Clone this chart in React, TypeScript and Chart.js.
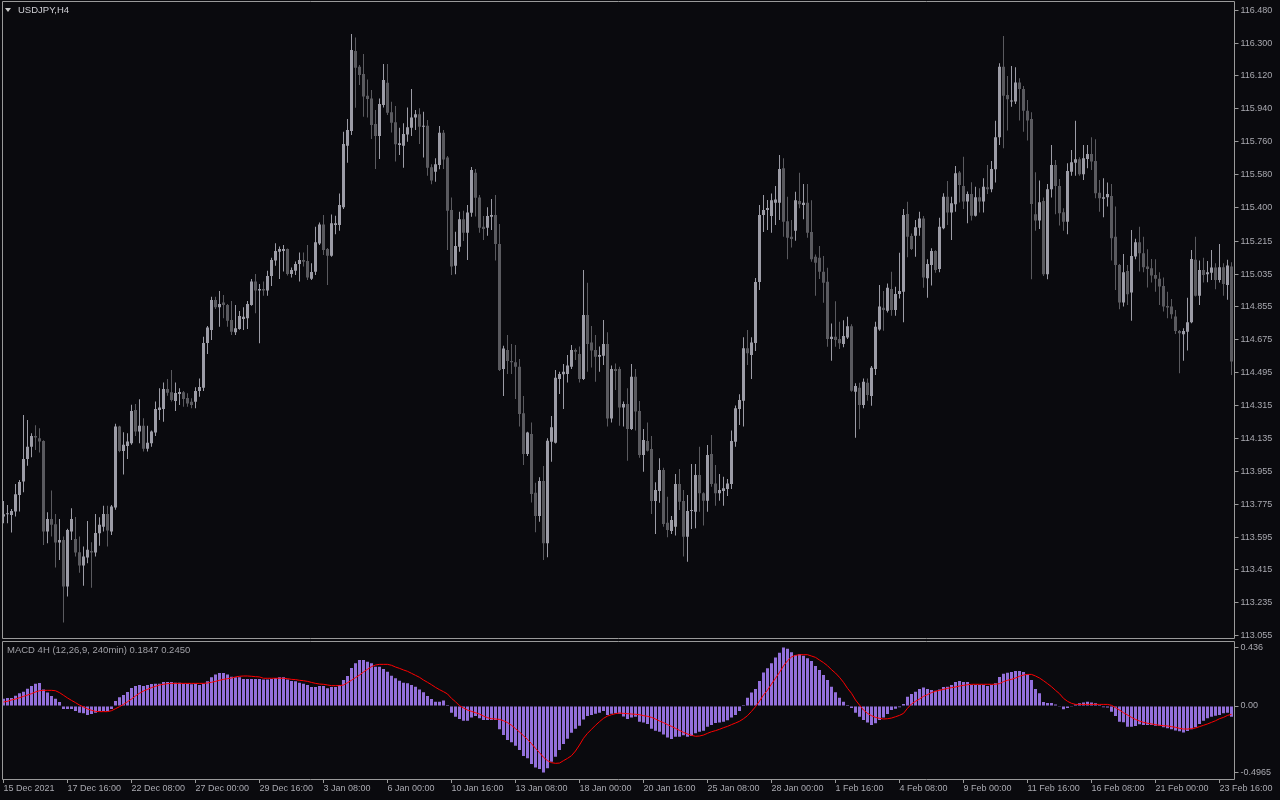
import React, { useEffect, useRef } from 'react';
import { Chart, registerables } from 'chart.js';

Chart.register(...registerables);

const opens = [
  113.707,113.720,113.716,113.735,113.826,113.899,114.023,114.089,114.149,114.136,
  114.121,113.625,113.694,113.665,113.565,113.579,113.324,113.625,113.585,113.512,
  113.439,113.483,113.519,113.510,113.616,113.651,113.722,113.625,113.757,114.200,
  114.067,114.094,114.109,114.291,114.173,114.204,114.078,114.109,114.167,114.291,
  114.296,114.406,114.388,114.340,114.378,114.388,114.357,114.336,114.336,114.395,
  114.413,114.658,114.729,114.893,114.853,114.879,114.866,114.784,114.716,114.734,
  114.789,114.793,114.866,114.994,114.945,114.954,114.945,115.025,115.109,115.158,
  115.162,115.173,115.036,115.054,115.091,115.112,115.107,115.010,115.048,115.203,
  115.307,115.173,115.136,115.304,115.304,115.401,115.738,115.819,116.257,116.171,
  116.131,116.012,115.997,115.857,115.791,115.961,116.083,115.921,115.866,115.742,
  115.738,115.800,115.837,115.892,115.910,115.842,115.847,115.620,115.596,115.632,
  115.809,115.673,115.386,115.081,115.185,115.335,115.262,115.371,115.590,115.455,
  115.295,115.289,115.349,115.359,115.200,114.515,114.619,114.559,114.552,114.528,
  114.273,114.050,114.159,113.838,113.710,113.902,113.561,114.117,114.112,114.461,
  114.486,114.488,114.528,114.619,114.597,114.461,114.811,114.660,114.619,114.583,
  114.588,114.652,114.245,114.515,114.515,114.304,114.324,114.187,114.473,114.285,
  114.045,114.121,114.077,113.793,113.847,113.962,113.674,113.628,113.652,113.886,
  113.793,113.597,113.738,113.734,113.935,113.835,113.794,114.050,113.889,113.835,
  113.847,113.858,113.886,114.117,114.296,114.342,114.629,114.592,114.658,114.992,
  115.359,115.386,115.353,115.426,115.426,115.614,115.325,115.240,115.273,115.435,
  115.413,115.426,115.265,115.130,115.125,115.048,114.993,114.679,114.692,114.679,
  114.652,114.688,114.750,114.391,114.413,114.318,114.440,114.367,114.515,114.732,
  114.851,114.834,114.953,114.838,114.926,114.938,115.364,115.243,115.245,115.289,
  115.340,115.012,115.085,115.162,115.063,115.286,115.459,115.372,115.417,115.591,
  115.518,115.432,115.474,115.355,115.456,115.432,115.510,115.500,115.609,115.784,
  116.171,116.016,115.980,115.980,116.084,116.049,115.930,115.885,115.363,115.328,
  115.436,115.034,115.500,115.633,115.518,115.374,115.322,115.596,115.645,115.664,
  115.582,115.666,115.693,115.655,115.481,115.447,115.456,115.463,115.240,115.085,
  114.879,115.052,114.934,115.131,115.209,115.149,115.076,115.067,115.030,115.009,
  114.970,114.861,114.857,114.803,114.724,114.706,114.720,114.771,115.113,114.917,
  115.058,115.034,115.043,115.071,115.003,115.072,114.976,115.076,
];

const highs = [
  113.793,113.771,113.749,113.886,113.908,114.264,114.236,114.163,114.207,114.191,
  114.125,113.731,113.850,113.722,113.694,113.598,113.640,113.753,113.705,113.598,
  113.543,113.683,113.567,113.722,113.704,113.766,113.766,113.771,114.215,114.204,
  114.169,114.163,114.319,114.324,114.350,114.246,114.204,114.178,114.337,114.410,
  114.442,114.461,114.510,114.442,114.410,114.395,114.382,114.355,114.415,114.464,
  114.692,114.751,114.911,114.911,114.942,114.921,114.871,114.888,114.866,114.833,
  114.853,114.888,115.008,115.036,114.981,114.994,115.054,115.125,115.204,115.186,
  115.195,115.175,115.071,115.104,115.154,115.153,115.195,115.094,115.295,115.317,
  115.359,115.178,115.362,115.355,115.477,115.815,115.884,116.350,116.331,116.180,
  116.240,116.101,116.043,115.934,115.997,116.185,116.185,115.979,115.955,115.837,
  115.861,115.948,116.049,115.934,115.943,115.924,115.879,115.636,115.669,115.846,
  115.824,115.682,115.455,115.267,115.377,115.382,115.413,115.622,115.610,115.468,
  115.353,115.401,115.446,115.468,115.309,114.643,114.701,114.652,114.647,114.570,
  114.367,114.172,114.223,113.893,113.922,113.984,114.136,114.258,114.510,114.501,
  114.543,114.592,114.647,114.628,114.638,115.058,114.988,114.751,114.701,114.638,
  114.784,114.716,114.534,114.546,114.528,114.337,114.410,114.543,114.515,114.340,
  114.187,114.223,114.149,113.895,114.026,113.975,113.816,113.711,113.940,113.968,
  113.853,113.825,113.995,113.995,114.090,113.840,114.099,114.154,113.990,113.940,
  113.926,113.913,114.178,114.315,114.377,114.689,114.729,114.689,115.014,115.413,
  115.468,115.441,115.477,115.517,115.687,115.669,115.459,115.331,115.486,115.590,
  115.528,115.528,115.440,115.143,115.189,115.134,115.070,114.765,114.887,114.774,
  114.783,114.802,114.761,114.437,114.440,114.464,114.464,114.532,114.774,114.975,
  114.942,114.984,115.048,114.966,115.152,115.391,115.431,115.258,115.331,115.377,
  115.353,115.117,115.176,115.166,115.344,115.478,115.545,115.459,115.627,115.600,
  115.678,115.487,115.538,115.514,115.505,115.560,115.633,115.655,115.875,116.189,
  116.339,116.120,116.175,116.168,116.107,116.065,115.989,115.921,115.593,115.547,
  115.454,115.529,115.742,115.660,115.556,115.395,115.642,115.715,115.875,115.675,
  115.742,115.742,115.784,115.773,115.551,115.560,115.536,115.529,115.405,115.091,
  115.145,115.085,115.277,115.228,115.295,115.240,115.171,115.118,115.116,115.045,
  115.016,114.939,114.899,114.839,114.729,114.738,114.906,115.167,115.240,115.109,
  115.125,115.107,115.167,115.094,115.200,115.094,115.113,115.100,
];

const lows = [
  113.671,113.671,113.620,113.707,113.735,113.840,113.986,114.032,114.072,114.058,
  113.552,113.561,113.598,113.428,113.470,113.127,113.269,113.579,113.488,113.400,
  113.329,113.452,113.318,113.488,113.548,113.625,113.543,113.607,113.744,114.060,
  113.937,114.023,114.100,114.149,114.109,114.063,114.063,114.090,114.149,114.236,
  114.227,114.369,114.337,114.285,114.318,114.309,114.309,114.300,114.300,114.364,
  114.395,114.598,114.674,114.844,114.747,114.793,114.747,114.702,114.702,114.730,
  114.729,114.734,114.862,114.820,114.656,114.917,114.917,114.970,115.081,115.008,
  115.049,115.027,115.016,115.030,114.994,115.076,115.003,115.003,115.030,115.194,
  115.140,114.975,115.130,115.253,115.273,115.391,115.645,115.797,115.946,116.071,
  115.897,115.892,115.775,115.610,115.665,115.948,115.906,115.811,115.651,115.687,
  115.618,115.760,115.791,115.824,115.747,115.673,115.574,115.527,115.541,115.609,
  115.611,115.167,115.030,115.034,115.158,115.216,115.112,115.349,115.350,115.262,
  115.222,115.245,115.276,115.109,114.505,114.367,114.488,114.488,114.351,114.200,
  113.990,114.039,113.785,113.621,113.679,113.469,113.484,114.008,114.108,114.378,
  114.296,114.441,114.515,114.565,114.441,114.455,114.501,114.523,114.446,114.501,
  114.537,114.200,114.222,114.400,114.205,114.200,114.013,114.181,114.178,114.030,
  113.953,114.063,113.721,113.612,113.783,113.652,113.594,113.612,113.603,113.743,
  113.488,113.460,113.639,113.643,113.734,113.658,113.734,113.871,113.767,113.794,
  113.767,113.820,113.858,114.090,114.209,114.200,114.537,114.461,114.614,114.948,
  115.266,115.277,115.262,115.304,115.331,115.240,115.116,115.181,115.218,115.395,
  115.336,115.234,115.103,114.917,115.008,114.878,114.637,114.561,114.637,114.625,
  114.634,114.679,114.391,114.139,114.186,114.300,114.342,114.314,114.482,114.725,
  114.725,114.825,114.807,114.807,114.902,114.771,115.127,115.167,115.130,115.245,
  114.960,114.906,114.972,115.043,115.045,115.280,115.304,115.222,115.377,115.427,
  115.392,115.313,115.328,115.350,115.372,115.372,115.474,115.483,115.536,115.742,
  115.724,115.821,115.952,115.967,115.876,115.815,115.766,115.007,115.273,115.282,
  115.025,115.007,115.454,115.363,115.301,115.273,115.253,115.574,115.574,115.574,
  115.551,115.615,115.605,115.450,115.377,115.346,115.405,115.109,114.948,114.842,
  114.857,114.866,114.780,115.116,115.049,115.045,114.961,114.989,114.939,114.866,
  114.830,114.793,114.790,114.707,114.492,114.561,114.616,114.766,114.912,114.866,
  114.989,114.990,115.003,114.952,114.989,114.917,114.894,114.483,
];

const closes = [
  113.720,113.722,113.738,113.829,113.897,114.023,114.089,114.149,114.140,114.118,
  113.625,113.694,113.662,113.565,113.579,113.324,113.634,113.694,113.510,113.439,
  113.488,113.525,113.510,113.618,113.662,113.722,113.631,113.762,114.200,114.067,
  114.100,114.118,114.286,114.173,114.204,114.078,114.112,114.173,114.297,114.304,
  114.406,114.386,114.346,114.384,114.389,114.351,114.327,114.318,114.395,114.417,
  114.658,114.742,114.893,114.853,114.871,114.866,114.780,114.720,114.738,114.806,
  114.802,114.871,114.994,114.945,114.954,114.945,115.025,115.112,115.162,115.173,
  115.173,115.036,115.058,115.091,115.112,115.103,115.016,115.047,115.209,115.307,
  115.167,115.136,115.313,115.313,115.413,115.747,115.824,116.262,116.165,116.125,
  116.007,115.994,115.852,115.791,115.966,116.098,115.919,115.864,115.746,115.751,
  115.802,115.839,115.893,115.910,115.842,115.846,115.618,115.547,115.636,115.809,
  115.663,115.382,115.076,115.189,115.335,115.262,115.373,115.605,115.453,115.289,
  115.282,115.353,115.359,115.200,114.510,114.628,114.559,114.552,114.528,114.269,
  114.050,114.167,113.831,113.710,113.902,113.561,114.123,114.196,114.468,114.488,
  114.501,114.534,114.619,114.610,114.461,114.811,114.652,114.616,114.583,114.592,
  114.652,114.245,114.515,114.504,114.304,114.324,114.187,114.473,114.282,114.045,
  114.127,114.068,113.793,113.853,113.962,113.667,113.634,113.689,113.886,113.789,
  113.597,113.738,113.740,113.935,113.835,113.794,114.045,113.886,113.835,113.853,
  113.862,113.889,114.121,114.300,114.346,114.629,114.601,114.661,114.992,115.359,
  115.386,115.397,115.440,115.444,115.610,115.322,115.234,115.227,115.440,115.418,
  115.426,115.262,115.117,115.097,115.048,114.988,114.679,114.692,114.674,114.656,
  114.696,114.750,114.396,114.422,114.318,114.446,114.373,114.522,114.747,114.857,
  114.838,114.960,114.838,114.926,114.942,115.358,115.240,115.172,115.291,115.340,
  115.017,115.090,115.162,115.058,115.295,115.459,115.372,115.423,115.587,115.523,
  115.432,115.474,115.355,115.456,115.432,115.514,115.500,115.611,115.784,116.171,
  116.012,115.992,115.985,116.084,116.049,115.930,115.876,115.419,115.328,115.428,
  115.034,115.500,115.633,115.518,115.368,115.322,115.600,115.647,115.664,115.582,
  115.669,115.693,115.651,115.478,115.450,115.456,115.474,115.231,115.085,114.879,
  115.045,114.925,115.134,115.209,115.149,115.072,115.063,115.027,115.009,114.967,
  114.857,114.852,114.815,114.724,114.711,114.724,114.771,115.118,114.917,115.058,
  115.030,115.045,115.071,115.003,115.072,114.981,115.082,114.556,
];

const macdMain = [
  0.055,0.060,0.060,0.077,0.095,0.107,0.129,0.149,0.167,0.172,
  0.124,0.100,0.075,0.055,0.030,-0.022,-0.022,-0.022,-0.037,-0.050,
  -0.055,-0.067,-0.060,-0.050,-0.037,-0.037,-0.037,-0.022,0.037,0.065,
  0.082,0.105,0.134,0.149,0.157,0.149,0.157,0.164,0.167,0.167,
  0.179,0.179,0.179,0.174,0.174,0.167,0.167,0.162,0.167,0.157,
  0.167,0.184,0.214,0.236,0.246,0.246,0.236,0.219,0.214,0.214,
  0.202,0.202,0.202,0.202,0.202,0.197,0.197,0.202,0.209,0.214,
  0.214,0.197,0.187,0.184,0.174,0.167,0.157,0.142,0.142,0.149,
  0.149,0.132,0.142,0.142,0.157,0.194,0.224,0.284,0.319,0.343,
  0.343,0.331,0.319,0.294,0.294,0.276,0.256,0.226,0.207,0.189,
  0.174,0.169,0.157,0.144,0.124,0.102,0.075,0.052,0.032,0.032,
  0.042,0.007,-0.050,-0.080,-0.097,-0.110,-0.110,-0.085,-0.075,-0.092,
  -0.105,-0.105,-0.105,-0.105,-0.174,-0.217,-0.254,-0.271,-0.296,-0.329,
  -0.373,-0.391,-0.433,-0.460,-0.470,-0.4965,-0.465,-0.416,-0.378,-0.329,
  -0.284,-0.244,-0.199,-0.169,-0.147,-0.100,-0.075,-0.067,-0.057,-0.050,
  -0.037,-0.067,-0.057,-0.055,-0.057,-0.078,-0.097,-0.085,-0.080,-0.117,
  -0.124,-0.134,-0.169,-0.184,-0.192,-0.212,-0.236,-0.246,-0.229,-0.229,
  -0.219,-0.229,-0.224,-0.204,-0.192,-0.184,-0.154,-0.142,-0.127,-0.124,
  -0.117,-0.107,-0.085,-0.067,-0.037,0.007,0.062,0.100,0.127,0.187,
  0.251,0.281,0.319,0.363,0.398,0.436,0.428,0.401,0.381,0.386,
  0.376,0.356,0.336,0.299,0.269,0.231,0.194,0.144,0.102,0.062,
  0.032,0.007,-0.015,-0.050,-0.080,-0.105,-0.124,-0.142,-0.129,-0.105,
  -0.085,-0.060,-0.030,-0.020,-0.010,0.015,0.070,0.090,0.107,0.127,
  0.139,0.127,0.119,0.114,0.124,0.142,0.144,0.157,0.179,0.187,
  0.179,0.179,0.157,0.157,0.157,0.157,0.149,0.157,0.169,0.217,
  0.241,0.249,0.254,0.261,0.261,0.254,0.236,0.194,0.127,0.095,
  0.030,0.022,0.022,0.012,-0.005,-0.025,-0.015,-0.005,0.012,0.020,
  0.027,0.032,0.027,0.020,0.007,-0.010,-0.012,-0.042,-0.075,-0.117,
  -0.122,-0.154,-0.154,-0.149,-0.137,-0.142,-0.142,-0.142,-0.147,-0.147,
  -0.159,-0.167,-0.174,-0.182,-0.189,-0.197,-0.187,-0.174,-0.159,-0.134,
  -0.110,-0.092,-0.080,-0.072,-0.067,-0.055,-0.050,-0.080,
];

const macdSignal = [
  0.030,0.035,0.045,0.052,0.062,0.072,0.082,0.092,0.105,0.114,
  0.117,0.117,0.117,0.114,0.100,0.080,0.060,0.042,0.025,0.007,
  -0.007,-0.022,-0.032,-0.040,-0.042,-0.042,-0.042,-0.035,-0.020,-0.005,
  0.012,0.032,0.052,0.075,0.095,0.112,0.124,0.137,0.147,0.157,
  0.162,0.167,0.169,0.169,0.169,0.169,0.169,0.169,0.169,0.169,
  0.169,0.172,0.177,0.184,0.192,0.199,0.204,0.209,0.217,0.222,
  0.224,0.224,0.222,0.219,0.217,0.207,0.207,0.207,0.207,0.207,
  0.207,0.204,0.199,0.197,0.192,0.189,0.184,0.176,0.169,0.164,
  0.162,0.157,0.152,0.152,0.152,0.157,0.174,0.192,0.212,0.231,
  0.254,0.274,0.294,0.306,0.311,0.311,0.311,0.304,0.291,0.281,
  0.269,0.259,0.244,0.229,0.214,0.194,0.177,0.159,0.139,0.122,
  0.107,0.090,0.057,0.032,0.002,-0.015,-0.030,-0.040,-0.050,-0.060,
  -0.075,-0.087,-0.095,-0.097,-0.100,-0.110,-0.124,-0.144,-0.169,-0.194,
  -0.222,-0.249,-0.281,-0.316,-0.348,-0.383,-0.408,-0.423,-0.428,-0.426,
  -0.408,-0.391,-0.371,-0.336,-0.291,-0.241,-0.204,-0.174,-0.144,-0.117,
  -0.092,-0.075,-0.065,-0.057,-0.052,-0.055,-0.057,-0.060,-0.062,-0.065,
  -0.072,-0.077,-0.085,-0.097,-0.112,-0.124,-0.139,-0.152,-0.167,-0.182,
  -0.197,-0.209,-0.219,-0.226,-0.224,-0.217,-0.204,-0.192,-0.184,-0.174,
  -0.162,-0.152,-0.139,-0.127,-0.114,-0.095,-0.072,-0.040,-0.005,0.037,
  0.082,0.119,0.164,0.207,0.251,0.299,0.338,0.366,0.378,0.383,
  0.383,0.383,0.373,0.363,0.343,0.324,0.301,0.271,0.246,0.214,
  0.177,0.132,0.095,0.045,0.007,-0.030,-0.055,-0.072,-0.085,-0.092,
  -0.097,-0.095,-0.090,-0.080,-0.070,-0.055,-0.017,0.015,0.035,0.052,
  0.072,0.085,0.100,0.110,0.117,0.124,0.132,0.137,0.142,0.149,
  0.154,0.159,0.162,0.162,0.162,0.162,0.162,0.162,0.162,0.167,
  0.182,0.192,0.199,0.209,0.222,0.231,0.236,0.236,0.224,0.209,
  0.189,0.167,0.144,0.117,0.092,0.057,0.035,0.020,0.012,0.012,
  0.012,0.012,0.012,0.012,0.012,0.012,0.012,0.005,-0.012,-0.030,
  -0.050,-0.067,-0.085,-0.100,-0.112,-0.122,-0.129,-0.134,-0.139,-0.144,
  -0.147,-0.149,-0.154,-0.159,-0.167,-0.172,-0.172,-0.169,-0.164,-0.154,
  -0.144,-0.134,-0.122,-0.110,-0.095,-0.085,-0.070,-0.062,
];

const priceTicks = [
  116.480, 116.300, 116.120, 115.940, 115.760, 115.580, 115.400, 115.215, 115.035, 114.855,
  114.675, 114.495, 114.315, 114.135, 113.955, 113.775, 113.595, 113.415, 113.235, 113.055,
];
const macdTicks = [0.436, 0, -0.4965];
const macdTickLabels = ['0.436', '0.00', '-0.4965'];
const timeTicks = [
  '15 Dec 2021', '17 Dec 16:00', '22 Dec 08:00', '27 Dec 00:00', '29 Dec 16:00',
  '3 Jan 08:00', '6 Jan 00:00', '10 Jan 16:00', '13 Jan 08:00', '18 Jan 00:00',
  '20 Jan 16:00', '25 Jan 08:00', '28 Jan 00:00', '1 Feb 16:00', '4 Feb 08:00',
  '9 Feb 00:00', '11 Feb 16:00', '16 Feb 08:00', '21 Feb 00:00', '23 Feb 16:00',
];
const TICK_EVERY = 16;
const symbolTitle = 'USDJPY,H4';
const macdTitle = 'MACD 4H (12,26,9, 240min) 0.1847 0.2450';

const barLabels = opens.map((_, i) => String(i));

const BG = '#0a0a0e';
const BULL = '#9c9ca6';
const BEAR = '#5a5a5f';
const FRAME = '#9a9a9a';
const TEXT = '#a9a9b0';
const MACD_COLOR = '#9370db';
const SIGNAL_COLOR = '#ff0000';
const FONT = "'Liberation Sans', Arial, sans-serif";

const framePlugin = {
  id: 'frame',
  afterDraw(chart: any) {
    const { ctx, chartArea } = chart;
    const l = Math.floor(chartArea.left) + 1 + 0.5;
    const r = Math.floor(chartArea.right) + 1 + 0.5;
    const t = Math.floor(chartArea.top) + 0.5;
    const b = Math.floor(chartArea.bottom) + 0.5;
    ctx.save();
    ctx.strokeStyle = FRAME;
    ctx.lineWidth = 1;
    ctx.beginPath();
    ctx.moveTo(l, t);
    ctx.lineTo(r, t);
    ctx.lineTo(r, b);
    ctx.lineTo(l, b);
    ctx.closePath();
    ctx.stroke();
    ctx.restore();
  },
};

const noPadY = (width: number) => (s: any) => {
  s.width = width;
  s.paddingTop = 0;
  s.paddingBottom = 0;
  s.paddingLeft = 0;
  s.paddingRight = 0;
};
const noPadX = (height: number) => (s: any) => {
  s.height = height;
  s.paddingTop = 0;
  s.paddingBottom = 0;
  s.paddingLeft = 0;
  s.paddingRight = 0;
};

export default function App() {
  const mainRef = useRef<HTMLCanvasElement | null>(null);
  const macdRef = useRef<HTMLCanvasElement | null>(null);

  useEffect(() => {
    const candleColors = opens.map((o, i) => (closes[i] >= o ? BULL : BEAR));
    const mainChart = new Chart(mainRef.current as HTMLCanvasElement, {
      type: 'bar',
      data: {
        labels: barLabels,
        datasets: [
          {
            label: 'body',
            data: opens.map((o, i) => [o, closes[i]]) as any,
            backgroundColor: candleColors,
            barThickness: 3,
            minBarLength: 1,
            grouped: false,
            borderWidth: 0,
            inflateAmount: 0,
          } as any,
          {
            label: 'wick',
            data: lows.map((l, i) => [l, highs[i]]) as any,
            backgroundColor: candleColors,
            barThickness: 1,
            grouped: false,
            borderWidth: 0,
            inflateAmount: 0,
          } as any,
        ],
      },
      options: {
        responsive: false,
        animation: false,
        events: [],
        layout: { autoPadding: false, padding: { left: 1.5, top: 1.5, right: 0, bottom: 1.5 } },
        plugins: { legend: { display: false }, tooltip: { enabled: false } },
        scales: {
          x: { type: 'category', display: false, offset: true },
          y: {
            position: 'right',
            min: 113.0396,
            max: 116.5278,
            afterFit: noPadY(46.5),
            afterBuildTicks: (s: any) => { s.ticks = priceTicks.map((v) => ({ value: v })); },
            ticks: {
              autoSkip: false,
              padding: 2,
              color: TEXT,
              font: { family: FONT, size: 9 },
              callback: (v: any) => Number(v).toFixed(3),
            },
            grid: { drawOnChartArea: false, drawTicks: true, tickLength: 5, color: FRAME },
            border: { display: false },
          },
        },
      } as any,
      plugins: [framePlugin],
    });

    const macdChart = new Chart(macdRef.current as HTMLCanvasElement, {
      type: 'bar',
      data: {
        labels: barLabels,
        datasets: [
          {
            type: 'line',
            label: 'signal',
            data: macdSignal,
            borderColor: SIGNAL_COLOR,
            borderWidth: 1,
            pointRadius: 0,
            tension: 0,
            fill: false,
          } as any,
          {
            type: 'bar',
            label: 'macd',
            data: macdMain,
            backgroundColor: MACD_COLOR,
            barThickness: 3,
            grouped: false,
            borderWidth: 0,
            inflateAmount: 0,
          } as any,
        ],
      },
      options: {
        responsive: false,
        animation: false,
        events: [],
        layout: { autoPadding: false, padding: { left: 1.5, top: 1.5, right: 0, bottom: 0 } },
        plugins: { legend: { display: false }, tooltip: { enabled: false } },
        scales: {
          x: {
            type: 'category',
            offset: true,
            afterFit: noPadX(21),
            ticks: {
              autoSkip: false,
              maxRotation: 0,
              minRotation: 0,
              align: 'start',
              padding: 0,
              color: TEXT,
              font: { family: FONT, size: 9 },
              callback: (_v: any, index: number) =>
                index % TICK_EVERY === 0 ? timeTicks[index / TICK_EVERY] ?? '' : '',
            },
            grid: {
              offset: false,
              drawOnChartArea: false,
              drawTicks: true,
              tickLength: 4,
              color: (c: any) => (c.index % TICK_EVERY === 0 ? FRAME : 'rgba(0,0,0,0)'),
            },
            border: { display: false },
          },
          y: {
            position: 'right',
            min: -0.545,
            max: 0.4816,
            afterFit: noPadY(46.5),
            afterBuildTicks: (s: any) => { s.ticks = macdTicks.map((v) => ({ value: v })); },
            ticks: {
              autoSkip: false,
              padding: 2,
              color: TEXT,
              font: { family: FONT, size: 9 },
              callback: (_v: any, index: number) => macdTickLabels[index],
            },
            grid: { drawOnChartArea: false, drawTicks: true, tickLength: 5, color: FRAME },
            border: { display: false },
          },
        },
      } as any,
      plugins: [framePlugin],
    });

    return () => {
      mainChart.destroy();
      macdChart.destroy();
    };
  }, []);

  return (
    <div style={{ position: 'fixed', left: 0, top: 0, width: 1280, height: 800, background: BG, overflow: 'hidden' }}>
      <canvas
        ref={mainRef}
        width={1280}
        height={640}
        style={{ position: 'absolute', left: 0, top: 0, width: 1280, height: 640 }}
      />
      <canvas
        ref={macdRef}
        width={1280}
        height={160}
        style={{ position: 'absolute', left: 0, top: 640, width: 1280, height: 160 }}
      />
      <div
        style={{
          position: 'absolute', left: 5, top: 8, width: 0, height: 0,
          borderLeft: '3px solid transparent', borderRight: '3px solid transparent',
          borderTop: '4px solid #c8c8c8',
        }}
      />
      <div
        style={{
          position: 'absolute', left: 18, top: 4, font: `9.5px ${FONT}`, lineHeight: '12px',
          color: '#cfcfd4', whiteSpace: 'nowrap',
        }}
      >
        {symbolTitle}
      </div>
      <div
        style={{
          position: 'absolute', left: 7, top: 644, font: `9.5px ${FONT}`, lineHeight: '12px',
          color: '#a0a0a6', whiteSpace: 'nowrap',
        }}
      >
        {macdTitle}
      </div>
    </div>
  );
}
